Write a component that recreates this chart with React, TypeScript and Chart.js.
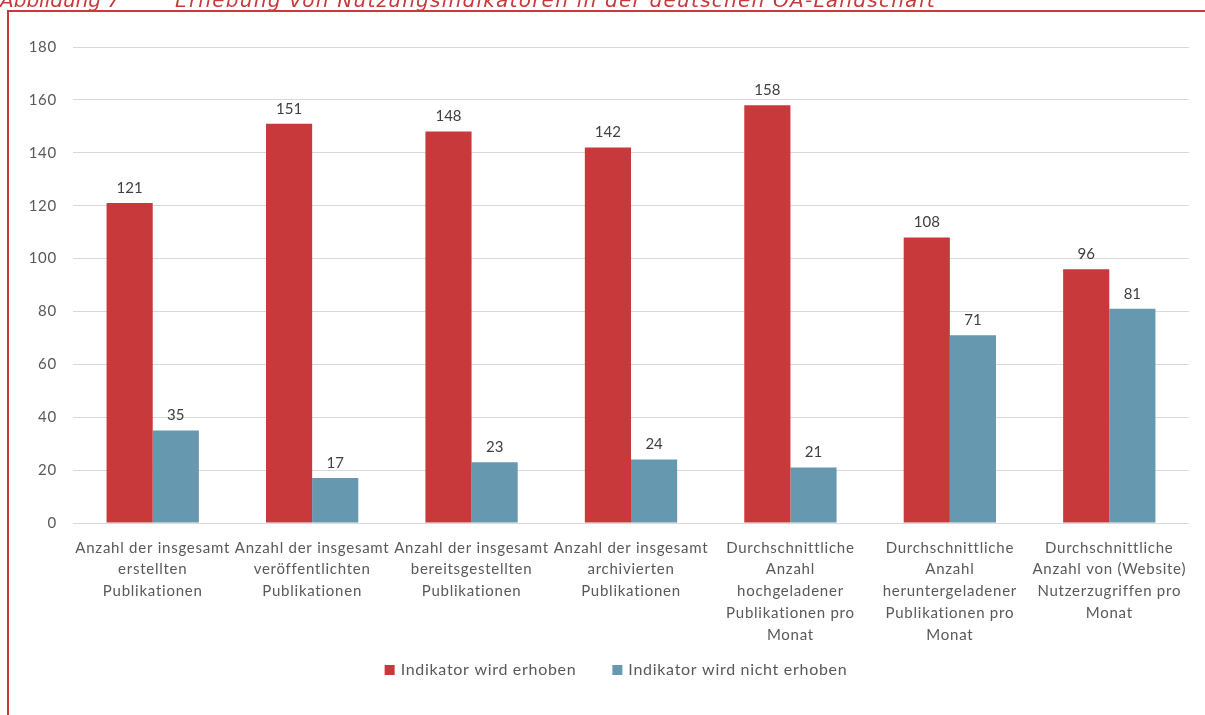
import React, { useEffect, useRef } from "react";
import { Chart, registerables } from "chart.js";

Chart.register(...registerables);

const categories: string[][] = [
  ["Anzahl der insgesamt", "erstellten", "Publikationen"],
  ["Anzahl der insgesamt", "veröffentlichten", "Publikationen"],
  ["Anzahl der insgesamt", "bereitsgestellten", "Publikationen"],
  ["Anzahl der insgesamt", "archivierten", "Publikationen"],
  ["Durchschnittliche", "Anzahl", "hochgeladener", "Publikationen pro", "Monat"],
  ["Durchschnittliche", "Anzahl", "heruntergeladener", "Publikationen pro", "Monat"],
  ["Durchschnittliche", "Anzahl von (Website)", "Nutzerzugriffen pro", "Monat"],
];

const seriesNames = ["Indikator wird erhoben", "Indikator wird nicht erhoben"];
const erhoben = [121, 151, 148, 142, 158, 108, 96];
const nichtErhoben = [35, 17, 23, 24, 21, 71, 81];

const yMin = 0;
const yMax = 180;
const yStep = 20;

const titleNumber = "Abbildung 7";
const titleText = "Erhebung von Nutzungsindikatoren in der deutschen OA-Landschaft";

const RED = "#C8393B";
const BLUE = "#6699B0";
const FONT = "Lato";

const textSpacing = {
  id: "textSpacing",
  beforeInit(chart: any) {
    chart.ctx.letterSpacing = "0.75px";
  },
  beforeDraw(chart: any) {
    chart.ctx.letterSpacing = "0.75px";
  },
};

const dataLabels = {
  id: "dataLabels",
  afterDatasetsDraw(chart: any) {
    const ctx = chart.ctx;
    ctx.save();
    ctx.letterSpacing = "0px";
    ctx.font = `15px ${FONT}`;
    ctx.fillStyle = "#404040";
    ctx.textAlign = "center";
    ctx.textBaseline = "middle";
    chart.data.datasets.forEach((ds: any, i: number) => {
      const meta = chart.getDatasetMeta(i);
      meta.data.forEach((bar: any, j: number) => {
        ctx.fillText(String(ds.data[j]), bar.x, bar.y - 15);
      });
    });
    ctx.restore();
  },
};

const customLegend = {
  id: "customLegend",
  afterDraw(chart: any) {
    const ctx = chart.ctx;
    ctx.save();
    ctx.letterSpacing = "0.7px";
    ctx.font = `16px ${FONT}`;
    ctx.textBaseline = "middle";
    ctx.textAlign = "left";
    const box = 10;
    const boxGap = 6;
    const itemGap = 36;
    const items = chart.data.datasets.map((ds: any) => ({
      text: ds.label,
      color: ds.backgroundColor,
      w: ctx.measureText(ds.label).width,
    }));
    const total =
      items.reduce((s: number, it: any) => s + box + boxGap + it.w, 0) +
      itemGap * (items.length - 1);
    const cx = (chart.chartArea.left + chart.chartArea.right) / 2 - 15;
    const cy = chart.chartArea.bottom + 147;
    let x = cx - total / 2;
    items.forEach((it: any) => {
      ctx.fillStyle = it.color;
      ctx.fillRect(x, cy - box / 2, box, box);
      ctx.fillStyle = "#595959";
      ctx.fillText(it.text, x + box + boxGap, cy);
      x += box + boxGap + it.w + itemGap;
    });
    ctx.restore();
  },
};

export default function App() {
  const canvasRef = useRef<HTMLCanvasElement | null>(null);

  useEffect(() => {
    if (!canvasRef.current) return;
    const chart = new Chart(canvasRef.current, {
      type: "bar",
      data: {
        labels: categories,
        datasets: [
          {
            label: seriesNames[0],
            data: erhoben,
            backgroundColor: RED,
            borderWidth: 0,
            barPercentage: 1,
            categoryPercentage: 0.579,
          },
          {
            label: seriesNames[1],
            data: nichtErhoben,
            backgroundColor: BLUE,
            borderWidth: 0,
            barPercentage: 1,
            categoryPercentage: 0.579,
          },
        ],
      },
      options: {
        animation: false,
        responsive: false,
        maintainAspectRatio: false,
        layout: { padding: { left: 0, right: 16, top: 47, bottom: 57 } },
        plugins: {
          tooltip: { enabled: false },
          legend: { display: false },
        },
        scales: {
          x: {
            grid: { display: false, drawTicks: false },
            border: { display: false },
            ticks: {
              color: "#595959",
              font: { family: FONT, size: 15, lineHeight: 1.45 },
              maxRotation: 0,
              minRotation: 0,
              autoSkip: false,
              padding: 14,
            },
            afterFit: (scale: any) => {
              scale.height = 135;
            },
          },
          y: {
            min: yMin,
            max: yMax,
            ticks: {
              stepSize: yStep,
              color: "#595959",
              font: { family: FONT, size: 15 },
              padding: 16,
            },
            grid: { color: "#D9D9D9", lineWidth: 1, drawTicks: false },
            border: { display: false },
            afterFit: (scale: any) => {
              scale.width = 73;
            },
          },
        },
      },
      plugins: [textSpacing, dataLabels, customLegend],
    });
    return () => chart.destroy();
  }, []);

  const titleStyle: React.CSSProperties = {
    position: "absolute",
    top: -10,
    fontFamily: "'DejaVu Sans', sans-serif",
    fontStyle: "italic",
    fontSize: 20,
    lineHeight: "20px",
    color: RED,
    whiteSpace: "pre",
  };

  return (
    <div
      style={{
        position: "fixed",
        left: 0,
        top: 0,
        width: 1205,
        height: 715,
        overflow: "hidden",
        background: "#ffffff",
      }}
    >
      <canvas
        ref={canvasRef}
        width={1205}
        height={715}
        style={{ position: "absolute", left: 0, top: 0, width: 1205, height: 715 }}
      />
      <div style={{ ...titleStyle, left: 0 }}>{titleNumber}</div>
      <div style={{ ...titleStyle, left: 175, letterSpacing: "1.25px" }}>{titleText}</div>
      <div
        style={{
          position: "absolute",
          left: 7,
          top: 10,
          right: -10,
          bottom: -10,
          borderTop: `2px solid ${RED}`,
          borderLeft: `2px solid ${RED}`,
          pointerEvents: "none",
        }}
      />
    </div>
  );
}
